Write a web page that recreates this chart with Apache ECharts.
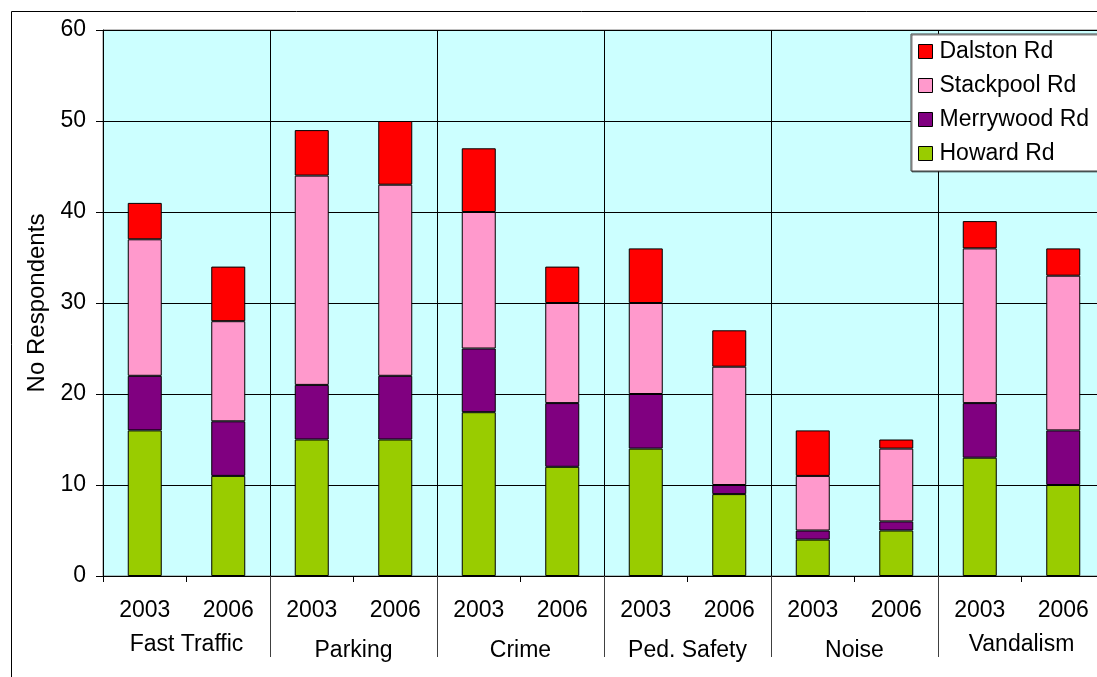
<!DOCTYPE html>
<html>
<head>
<meta charset="utf-8">
<script src="https://cdn.jsdelivr.net/npm/echarts@6/dist/echarts.min.js"></script>
<style>
html,body{margin:0;padding:0;background:#fff;width:1097px;height:677px;overflow:hidden;}
#c{width:1150px;height:677px;}
</style>
</head>
<body>
<div id="c"></div>
<script>
const groups = ['Fast Traffic', 'Parking', 'Crime', 'Ped. Safety', 'Noise', 'Vandalism'];
const years = ['2003', '2006'];
const seriesNames = ['Howard Rd', 'Merrywood Rd', 'Stackpool Rd', 'Dalston Rd'];
const howard    = [16, 11, 15, 15, 18, 12, 14, 9, 4, 5, 13, 10];
const merrywood = [6, 6, 6, 7, 7, 7, 6, 1, 1, 1, 6, 6];
const stackpool = [15, 11, 23, 21, 15, 11, 10, 13, 6, 8, 17, 17];
const dalston   = [4, 6, 5, 7, 7, 4, 6, 4, 5, 1, 3, 3];
const yTicks = [0, 10, 20, 30, 40, 50, 60];
const colors = ['#99CC00', '#800080', '#FF99CC', '#FF0000'];

const cats = [];
groups.forEach(g => years.forEach(y => cats.push(g + '|' + y)));
const values = [howard, merrywood, stackpool, dalston];

const FONT = "'Liberation Sans', Arial, sans-serif";
const chart = echarts.init(document.getElementById('c'), null, {renderer: 'canvas'});

chart.setOption({
  animation: false,
  textStyle: {fontFamily: FONT, color: '#000'},
  graphic: [{
    type: 'rect', z: -10, silent: true,
    shape: {x: 11.5, y: 11.5, width: 1300, height: 900},
    style: {fill: 'none', stroke: '#000', lineWidth: 1}
  }],
  grid: {
    left: 103, top: 30, width: 1002, bottom: 101,
    show: true, backgroundColor: '#CCFFFF', borderColor: '#808080', borderWidth: 1
  },
  legend: {
    data: seriesNames.slice().reverse(),
    orient: 'vertical',
    left: 911, top: 34,
    backgroundColor: '#fff',
    borderColor: '#404040', borderWidth: 1,
    shadowColor: 'rgba(0,0,0,0.5)', shadowBlur: 0, shadowOffsetX: 1, shadowOffsetY: 1,
    padding: [6, 40, 6, 7],
    itemWidth: 14, itemHeight: 14, itemGap: 11,
    icon: 'rect',
    itemStyle: {borderColor: '#000', borderWidth: 1},
    textStyle: {fontFamily: FONT, fontSize: 23, lineHeight: 23, color: '#000', padding: [0, 0, 0, 2]}
  },
  xAxis: [{
    type: 'category', data: cats, gridIndex: 0, position: 'bottom',
    axisLine: {show: true, lineStyle: {color: '#000', width: 1}},
    axisTick: {show: true, length: 6, interval: 0, lineStyle: {color: '#000'}},
    axisLabel: {interval: 0, margin: 23, fontSize: 23, fontFamily: FONT, color: '#000',
      formatter: v => v.split('|')[1]},
    splitLine: {show: false}
  }, {
    type: 'category', data: groups, gridIndex: 0, position: 'bottom',
    axisLine: {show: false},
    axisTick: {show: true, length: 81, interval: (i) => i !== 0, lineStyle: {color: '#404040'}},
    axisLabel: {interval: 0, margin: 57, fontSize: 23, fontFamily: FONT, color: '#000',
      formatter: (v, i) => (i === 0 || i === groups.length - 1) ? '{hi|' + v + '}' : '{lo|' + v + '}',
      rich: {
        hi: {fontSize: 23, lineHeight: 23, fontFamily: FONT, color: '#000'},
        lo: {fontSize: 23, lineHeight: 35, fontFamily: FONT, color: '#000'}
      }},
    splitLine: {show: true, interval: 0, lineStyle: {color: '#000', width: 1}}
  }],
  yAxis: {
    type: 'value', min: yTicks[0], max: yTicks[yTicks.length - 1], interval: 10,
    name: 'No Respondents', nameLocation: 'middle', nameRotate: 90, nameGap: 54,
    nameTextStyle: {fontSize: 24, fontFamily: FONT, color: '#000'},
    axisLine: {show: true, lineStyle: {color: '#000', width: 1}},
    axisTick: {show: true, length: 7, lineStyle: {color: '#000'}},
    axisLabel: {margin: 17, fontSize: 23, fontFamily: FONT, color: '#000'},
    splitLine: {show: true, lineStyle: {color: '#000', width: 1}}
  },
  series: seriesNames.map((n, i) => ({
    name: n, type: 'bar', stack: 'total', xAxisIndex: 0, barWidth: 34,
    data: values[i],
    itemStyle: {color: colors[i], borderColor: '#000', borderWidth: 1}
  }))
});
</script>
</body>
</html>
